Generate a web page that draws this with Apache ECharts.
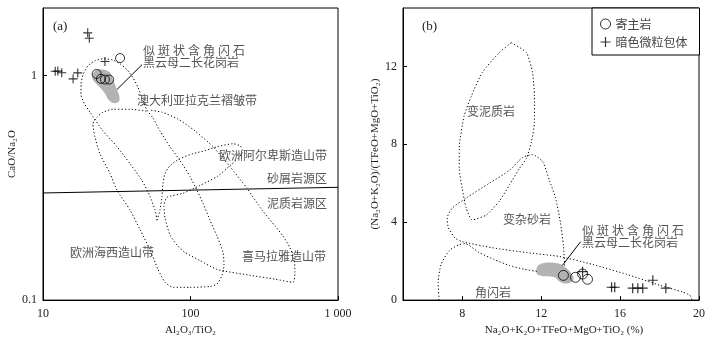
<!DOCTYPE html>
<html>
<head>
<meta charset="utf-8">
<script src="https://cdn.jsdelivr.net/npm/echarts@6/dist/echarts.min.js"></script>
<style>
  html, body { margin: 0; padding: 0; background: #fff; }
  #chart { width: 718px; height: 341px; }
</style>
</head>
<body>
<div id="chart"></div>
<script>
// (a) CaO/Na2O - Al2O3/TiO2
const hostA = [[23.1, 1.017], [24.7, 0.967], [26.3, 0.96], [28.1, 0.96], [33.3, 1.197]];
const enclaveA = [[12.1, 1.045], [12.6, 1.047], [13.4, 1.03], [16.0, 0.967], [17.2, 1.028], [20.1, 1.55], [20.6, 1.466], [26.3, 1.156]];
const graniteAreaA = [[21.8, 1.020], [23.2, 1.063], [25.9, 1.063], [28.5, 1.031], [29.8, 0.960], [31.3, 0.885], [32.8, 0.816], [32.8, 0.768],
  [30.3, 0.753], [28.0, 0.776], [26.3, 0.833], [24.0, 0.894], [22.2, 0.941], [21.5, 0.980]];
// 澳大利亚拉克兰褶皱带 + 欧洲海西造山带 outline
const fieldA1 = [[59.3, 0.227], [57.4, 0.252], [53.1, 0.290], [46.9, 0.341], [38.9, 0.405], [31.8, 0.482], [25.5, 0.567], [20.8, 0.687],
  [19.0, 0.753], [18.1, 0.825], [18.1, 0.913], [18.7, 1.010], [20.2, 1.107], [22.5, 1.164], [25.5, 1.188], [29.4, 1.176], [33.3, 1.129],
  [37.1, 1.063], [40.7, 0.980], [44.1, 0.885], [46.9, 0.792], [50.7, 0.701], [55.7, 0.647], [62.1, 0.567], [72.6, 0.482], [84.9, 0.418],
  [99.3, 0.355], [110.7, 0.308], [121.5, 0.270], [135.5, 0.227], [151.3, 0.193], [166.1, 0.163], [168.7, 0.143], [163.6, 0.129],
  [151.3, 0.118], [135.5, 0.115], [99.3, 0.114], [76.1, 0.114], [67.2, 0.120], [60.2, 0.137], [53.1, 0.168], [45.5, 0.206], [38.9, 0.252],
  [31.8, 0.308], [28.5, 0.366], [24.3, 0.449], [22.5, 0.533], [21.8, 0.608], [23.2, 0.653], [25.5, 0.687], [29.8, 0.708], [38.9, 0.708], [50.7, 0.694]];
// 欧洲阿尔卑斯造山带 + 喜马拉雅造山带 outline
const fieldA2 = [[59.3, 0.227], [62.1, 0.252], [64.1, 0.290], [65.1, 0.331], [67.2, 0.366], [72.6, 0.397], [84.9, 0.427], [104.0, 0.449],
  [125.3, 0.463], [151.3, 0.482], [194.1, 0.497], [216.6, 0.487], [227.0, 0.463], [209.8, 0.427], [185.2, 0.397], [151.3, 0.355],
  [115.9, 0.324], [88.9, 0.299], [69.3, 0.287], [66.1, 0.262], [67.2, 0.232], [72.6, 0.195], [81.0, 0.176], [91.8, 0.163], [115.9, 0.150],
  [151.3, 0.137], [253.0, 0.129], [373.9, 0.124], [495.3, 0.120], [510.6, 0.133], [503.5, 0.152], [472.7, 0.171], [423.4, 0.193],
  [373.9, 0.214], [305.2, 0.252], [241.5, 0.315], [185.2, 0.393], [142.2, 0.482], [107.3, 0.567], [82.3, 0.640], [64.1, 0.687], [53.1, 0.701]];
const sourceLineA = [[10, 0.30], [1000, 0.318]];
const leaderA = [[31.8, 0.868], [46.9, 1.118]];

// (b) (Na2O+K2O)/(TFeO+MgO+TiO2) - Na2O+K2O+TFeO+MgO+TiO2
const hostB = [[13.13, 1.27], [13.74, 1.17], [14.10, 1.34], [14.35, 1.07]];
const enclaveB = [[14.10, 1.46], [15.57, 0.66], [15.73, 0.66], [16.64, 0.61], [16.90, 0.61], [17.15, 0.61], [17.66, 1.02], [18.32, 0.61]];
const graniteAreaB = [[11.76, 1.58], [11.91, 1.83], [12.42, 1.93], [13.03, 1.83], [13.29, 1.63], [13.54, 1.37], [13.64, 1.07],
  [13.39, 0.86], [12.98, 0.92], [12.68, 1.17], [12.22, 1.22], [11.81, 1.32]];
const metapelite = [[10.49, 13.22], [11.25, 12.71], [11.56, 11.69], [11.66, 10.47], [11.66, 9.15], [11.51, 8.13], [11.25, 7.27],
  [10.90, 6.76], [10.39, 5.90], [9.88, 5.08], [9.22, 4.37], [8.51, 4.12], [8.20, 4.73], [8.00, 5.74], [7.85, 6.76], [7.85, 7.78],
  [8.10, 9.46], [8.46, 10.47], [9.02, 11.69], [9.88, 12.71], [10.49, 13.22]];
const metagreywacke = [[13.19, 1.78], [13.13, 2.80], [12.98, 3.97], [12.73, 5.24], [12.42, 6.15], [12.07, 7.12], [11.56, 7.47],
  [11.05, 7.32], [10.39, 6.66], [9.37, 6.00], [8.20, 5.24], [7.50, 4.73], [7.24, 4.22], [7.30, 3.71], [7.62, 3.20], [8.00, 3.00],
  [9.52, 2.69], [11.25, 2.44], [12.93, 2.24], [14.61, 1.83], [16.34, 1.32], [18.01, 0.76], [19.18, 0.41], [19.54, 0.25], [19.64, 0]];
const amphibolite = [[6.83, 0], [6.78, 0.92], [6.93, 1.83], [7.34, 2.54], [7.85, 2.85], [8.15, 2.90], [8.86, 2.44], [9.63, 2.08],
  [10.39, 1.78], [11.15, 1.58], [11.81, 1.47]];
const leaderB = [[13.08, 1.78], [14.0, 3.0]];

const xTicksA = [10, 100, 1000];
const yTicksA = [0.1, 1];
const xTicksB = [8, 12, 16, 20];
const yTicksB = [0, 4, 8, 12];

const serif = '"Liberation Serif", "Times New Roman", serif';
const cjk = '"Noto Sans CJK SC", sans-serif';
const plus = 'path://M4.4,0H5.6V4.4H10V5.6H5.6V10H4.4V5.6H0V4.4H4.4Z';

let chart = echarts.init(document.getElementById('chart'));

function blob(points) {
    return function (params, api) {
        if (params.dataIndex !== 0) return;
        return {
            type: 'polygon',
            shape: {points: points.map(p => api.coord(p)), smooth: 0.35},
            style: {fill: '#b3b3b3'}
        };
    };
}

function dotted(name, data, idx) {
    return {
        name: name, type: 'line', xAxisIndex: idx, yAxisIndex: idx, data: data,
        showSymbol: false, symbol: 'none', smooth: 0.2, silent: true, z: 3,
        lineStyle: {color: '#000', width: 1, type: [1.2, 2.2]}
    };
}

function solid(data, idx) {
    return {
        type: 'line', xAxisIndex: idx, yAxisIndex: idx, data: data, symbol: 'none', silent: true, z: 3,
        lineStyle: {color: '#000', width: 1}
    };
}

function axisCommon(ticks) {
    return {
        axisLine: {show: true, lineStyle: {color: '#000', width: 1}},
        axisTick: {show: true, inside: true, length: 4, customValues: ticks, lineStyle: {color: '#000'}},
        splitLine: {show: false},
        nameTextStyle: {fontFamily: serif, fontSize: 11, color: '#222'}
    };
}

function label(text, x, y, align, size, font) {
    return {
        type: 'text', x: x, y: y, silent: true,
        style: {
            text: text, fill: font === serif ? '#222' : '#555', textAlign: align || 'left', textVerticalAlign: 'middle',
            font: (size || 12) + 'px ' + (font || cjk)
        }
    };
}

const sp = '\u2005';

chart.setOption({
    animation: false,
    backgroundColor: '#fff',
    grid: [
        {left: 43, top: 8, width: 295, height: 295, show: true, borderColor: '#000', borderWidth: 1},
        {left: 403, top: 8, width: 296, height: 295, show: true, borderColor: '#000', borderWidth: 1}
    ],
    xAxis: [
        Object.assign(axisCommon(xTicksA), {
            type: 'log', logBase: 10, gridIndex: 0, min: 10, max: 1000,
            name: 'Al₂O₃/TiO₂', nameLocation: 'middle', nameGap: 24,
            axisLabel: {
                customValues: xTicksA, margin: 8, fontFamily: serif, fontSize: 12, color: '#222',
                formatter: v => Math.round(v) === 1000 ? '1 000' : String(Math.round(v))
            }
        }),
        Object.assign(axisCommon(xTicksB), {
            type: 'value', gridIndex: 1, min: 5, max: 20,
            name: 'Na₂O+K₂O+TFeO+MgO+TiO₂ (%)', nameLocation: 'middle', nameGap: 24,
            nameTextStyle: {fontFamily: serif, fontSize: 11, color: '#222', padding: [0, 0, 0, 26]},
            axisLabel: {customValues: xTicksB, margin: 8, fontFamily: serif, fontSize: 12, color: '#222'}
        })
    ],
    yAxis: [
        Object.assign(axisCommon(yTicksA), {
            type: 'log', logBase: 10, gridIndex: 0, min: 0.1, max: 2,
            name: 'CaO/Na₂O', nameLocation: 'middle', nameGap: 24,
            axisLabel: {
                customValues: yTicksA, margin: 6, fontFamily: serif, fontSize: 12, color: '#222',
                formatter: v => v < 0.5 ? '0.1' : '1'
            }
        }),
        Object.assign(axisCommon(yTicksB), {
            type: 'value', gridIndex: 1, min: 0, max: 15,
            name: '(Na₂O+K₂O)/(TFeO+MgO+TiO₂)', nameLocation: 'middle', nameGap: 14,
            axisLabel: {customValues: yTicksB, margin: 6, fontFamily: serif, fontSize: 12, color: '#222'}
        })
    ],
    legend: {
        data: ['寄主岩', '暗色微粒包体'],
        orient: 'vertical', left: 592, top: 8,
        padding: [10, 12, 7, 8], itemGap: 6, itemWidth: 10, itemHeight: 12,
        borderColor: '#000', borderWidth: 1, backgroundColor: '#fff',
        selectedMode: false,
        itemStyle: {borderWidth: 1},
        textStyle: {fontFamily: cjk, fontSize: 12, color: '#444'}
    },
    graphic: [
        label('(a)', 53, 27, 'left', 13, serif),
        label('似' + sp + '斑' + sp + '状' + sp + '含' + sp + '角' + sp + '闪' + sp + '石', 143, 50),
        label('黑云母二长花岗岩', 143, 62),
        label('澳大利亚拉克兰褶皱带', 137, 100),
        label('欧洲阿尔卑斯造山带', 327, 155, 'right'),
        label('砂屑岩源区', 327, 178, 'right'),
        label('泥质岩源区', 327, 203, 'right'),
        label('欧洲海西造山带', 70, 252),
        label('喜马拉雅造山带', 326, 256, 'right'),
        label('(b)', 422, 27, 'left', 13, serif),
        label('变泥质岩', 467, 111),
        label('变杂砂岩', 503, 219),
        label('角闪岩', 475, 292),
        label('似' + sp + '斑' + sp + '状' + sp + '含' + sp + '角' + sp + '闪' + sp + '石', 582, 230),
        label('黑云母二长花岗岩', 582, 242)
    ],
    series: [
        {type: 'custom', xAxisIndex: 0, yAxisIndex: 0, data: graniteAreaA, renderItem: blob(graniteAreaA), silent: true, z: 1},
        {type: 'custom', xAxisIndex: 1, yAxisIndex: 1, data: graniteAreaB, renderItem: blob(graniteAreaB), silent: true, z: 1},
        dotted('fieldA1', fieldA1, 0),
        dotted('fieldA2', fieldA2, 0),
        solid(sourceLineA, 0),
        solid(leaderA, 0),
        dotted('metapelite', metapelite, 1),
        dotted('metagreywacke', metagreywacke, 1),
        dotted('amphibolite', amphibolite, 1),
        solid(leaderB, 1),
        {
            name: '寄主岩', type: 'scatter', xAxisIndex: 0, yAxisIndex: 0, data: hostA, symbol: 'circle', symbolSize: 9, z: 5,
            itemStyle: {color: 'rgba(255,255,255,0)', borderColor: '#000', borderWidth: 1}
        },
        {
            name: '暗色微粒包体', type: 'scatter', xAxisIndex: 0, yAxisIndex: 0, data: enclaveA, symbol: plus, symbolSize: 9, z: 5,
            itemStyle: {color: '#000'}
        },
        {
            name: '寄主岩', type: 'scatter', xAxisIndex: 1, yAxisIndex: 1, data: hostB, symbol: 'circle', symbolSize: 10, z: 5,
            itemStyle: {color: 'rgba(255,255,255,0)', borderColor: '#000', borderWidth: 1}
        },
        {
            name: '暗色微粒包体', type: 'scatter', xAxisIndex: 1, yAxisIndex: 1, data: enclaveB, symbol: plus, symbolSize: 10, z: 5,
            itemStyle: {color: '#000'}
        }
    ]
});
</script>
</body>
</html>
